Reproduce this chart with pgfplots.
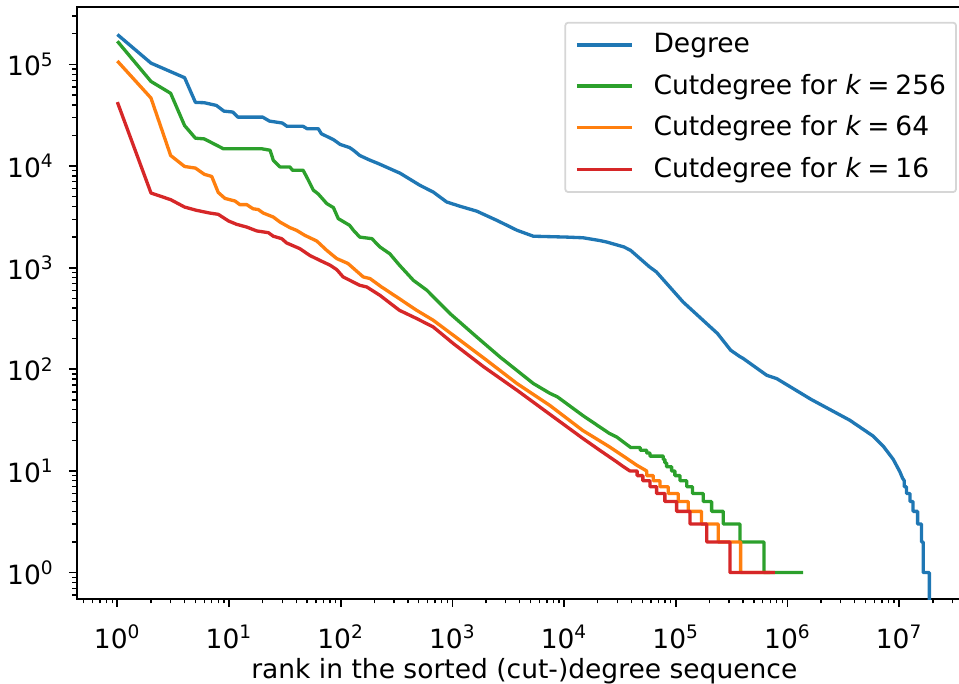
\documentclass[border=0pt]{standalone}
\usepackage{fontspec}
\setmainfont{DejaVu Sans}
\usepackage{pgfplots}
\pgfplotsset{compat=1.18}
\definecolor{c0}{HTML}{1F77B4}
\definecolor{c1}{HTML}{FF7F0E}
\definecolor{c2}{HTML}{2CA02C}
\definecolor{c3}{HTML}{D62728}
\newcommand{\tp}[1]{10\textsuperscript{#1}}
\newcommand{\keq}[1]{\textit{k}\hspace{0.22em}=\hspace{0.22em}#1}
\begin{document}
\begin{tikzpicture}[font=\fontsize{10.6}{12.7}\selectfont]
\begin{loglogaxis}[
  scale only axis, width=358.1pt, height=236.8pt,
  xmin=0.4325, xmax=4.477e7, ymin=0.5495, ymax=3.673e5,
  axis line style={line width=0.71pt},
  tick align=outside, tick pos=left,
  major tick length=3.1pt, minor tick length=1.78pt,
  major tick style={line width=0.71pt, black},
  minor tick style={line width=0.53pt, black},
  xtick={1,10,100,1000,10000,100000,1000000,10000000},
  xticklabels={\tp{0},\tp{1},\tp{2},\tp{3},\tp{4},\tp{5},\tp{6},\tp{7}},
  ytick={1,10,100,1000,10000,100000},
  yticklabels={\tp{0},\tp{1},\tp{2},\tp{3},\tp{4},\tp{5}},
  minor xtick={0.5,0.6,0.7,0.8,0.9,2,3,4,5,6,7,8,9,20,30,40,50,60,70,80,90,200,300,400,500,600,700,800,900,2000,3000,4000,5000,6000,7000,8000,9000,2e4,3e4,4e4,5e4,6e4,7e4,8e4,9e4,2e5,3e5,4e5,5e5,6e5,7e5,8e5,9e5,2e6,3e6,4e6,5e6,6e6,7e6,8e6,9e6,2e7,3e7,4e7},
  minor ytick={0.6,0.7,0.8,0.9,2,3,4,5,6,7,8,9,20,30,40,50,60,70,80,90,200,300,400,500,600,700,800,900,2000,3000,4000,5000,6000,7000,8000,9000,2e4,3e4,4e4,5e4,6e4,7e4,8e4,9e4,2e5,3e5},
  xticklabel style={anchor=base, yshift=-16.8pt},
  yticklabel style={anchor=east, inner sep=0pt, xshift=-5.8pt},
  xlabel={rank in the sorted (cut-)degree sequence},
  xlabel style={at={(axis description cs:0.5,0)}, anchor=base, yshift=-31.6pt},
  every axis plot/.append style={line width=1.33pt, line join=round},
  legend style={at={(1,1)}, anchor=north east, xshift=-6pt, yshift=-5.9pt,
    draw=black!16, line width=0.71pt, rounded corners=1.2pt, fill=white, fill opacity=0.8, text opacity=1,
    inner xsep=4pt, inner ysep=4.3pt, row sep=7.1pt, column sep=8pt,
    nodes={inner sep=0pt}},
  legend cell align=left,
  legend image code/.code={\draw[#1] (0pt,0pt) -- (22pt,0pt);},
]
\addplot[c0] coordinates {
(1,1.97e5)(2,1.03e5)(4,7.4e4)(5,4.23e4)(6,4.2e4)(7.7,3.95e4)(9,3.47e4)(10.8,3.4e4)(12,3.03e4)(20,3.03e4)(23,2.77e4)(30,2.65e4)(33,2.46e4)(46,2.46e4)(50,2.33e4)(63,2.33e4)(67,2.08e4)(86,1.82e4)(99,1.63e4)(120,1.52e4)(130,1.43e4)(148,1.27e4)(180,1.15e4)(216,1.06e4)(340,8.5e3)(512,6.46e3)(673,5.55e3)(888,4.43e3)(1170,4.02e3)(1650,3.6e3)(2500,2.92e3)(3800,2.33e3)(5300,2.04e3)(10500,2.0e3)(14800,1.97e3)(20800,1.85e3)(24000,1.79e3)(34300,1.6e3)(39400,1.48e3)(58000,1.02e3)(67000,908)(116000,460)(236000,225)(310000,154)(372000,134)(400000,128)(650000,87.5)(800000,81)(1.63e6,50.5)(3.6e6,31.6)(5.85e6,22)(7.2e6,17.5)(8.84e6,13)(1.014e7,9.8)(1.07e7,8.5)(1.11e7,8)(1.11e7,7)(1.16e7,7)(1.16e7,6)(1.25e7,6)(1.25e7,5)(1.33e7,5)(1.33e7,4)(1.46e7,4)(1.46e7,3)(1.585e7,3)(1.585e7,2)(1.64e7,2)(1.64e7,1)(1.86e7,1)(1.86e7,0.1)
};
\addlegendentry{Degree}
\addplot[c2] coordinates {
(1,1.69e5)(2,6.8e4)(3,5.2e4)(4,2.5e4)(5,1.88e4)(6,1.85e4)(8.9,1.48e4)(19.6,1.48e4)(23.3,1.43e4)(24.9,1.14e4)(28.6,9.8e3)(35,9.8e3)(37,9.1e3)(46,9.1e3)(49.6,7.8e3)(56.8,5.8e3)(63,5.3e3)(75,4.27e3)(86,3.9e3)(95,3.04e3)(120,2.61e3)(130,2.33e3)(148,2.0e3)(190,1.93e3)(224,1.6e3)(275,1.37e3)(335,1.06e3)(447,751)(590,600)(950,354)(1650,208)(2670,132)(5300,72.5)(7460,58)(8700,53.6)(14750,35)(25400,23.4)(29500,21.6)(39500,17)(48000,17)(48000,16)(54800,16)(54800,15)(58600,15)(58600,14)(77100,14)(77100,13)(79800,13)(79800,12)(82700,12)(82700,11)(91600,11)(91600,10)(98000,10)(98000,9)(109000,9)(109000,8)(125000,8)(125000,7)(141000,7)(141000,6)(176000,6)(176000,5)(209000,5)(209000,4)(266000,4)(266000,3)(375000,3)(375000,2)(615000,2)(615000,1)(1.38e6,1)
};
\addlegendentry{Cutdegree for \keq{256}}
\addplot[c1] coordinates {
(1,1.08e5)(2,4.67e4)(3,1.27e4)(4,9.9e3)(5,9.55e3)(6,8.3e3)(7,7.9e3)(8,5.5e3)(9.2,4.8e3)(11.3,4.53e3)(12.5,4.17e3)(14.4,4.17e3)(16.4,3.8e3)(18.3,3.73e3)(20.2,3.45e3)(24.9,3.15e3)(28.6,2.81e3)(35,2.48e3)(40.2,2.33e3)(47.7,2.08e3)(61,1.83e3)(75,1.48e3)(92,1.23e3)(116,1.1e3)(159,811)(183,781)(230,650)(317,515)(478,381)(673,304)(1170,193)(2020,123)(3780,72.5)(7470,44)(14700,25)(25400,17.3)(36300,13.3)(44600,11.4)(54800,10)(54800,9)(62800,9)(62800,8)(72100,8)(72100,7)(85500,7)(85500,6)(105000,6)(105000,5)(129000,5)(129000,4)(170000,4)(170000,3)(240000,3)(240000,2)(380000,2)(380000,1)(700000,1)
};
\addlegendentry{Cutdegree for \keq{64}}
\addplot[c3] coordinates {
(1,4.26e4)(2,5.43e3)(3,4.67e3)(4,3.95e3)(5.1,3.67e3)(6.7,3.45e3)(8,3.35e3)(9.9,2.88e3)(11.7,2.67e3)(14.4,2.51e3)(17.7,2.3e3)(22.5,2.21e3)(24.9,2.04e3)(29.6,1.93e3)(32.8,1.75e3)(43,1.54e3)(52.8,1.32e3)(65,1.18e3)(80,1.06e3)(92,958)(105,811)(148,671)(171,646)(224,535)(335,381)(478,316)(673,261)(1020,179)(1900,106)(3780,62.3)(7470,36)(14700,20.9)(20800,16)(29500,12.3)(34000,11)(38800,10)(45000,10)(45000,9)(50700,9)(50700,8)(58600,8)(58600,7)(67300,7)(67300,6)(79800,6)(79800,5)(101700,5)(101700,4)(134000,4)(134000,3)(189000,3)(189000,2)(305000,2)(305000,1)(771000,1)
};
\addlegendentry{Cutdegree for \keq{16}}
\end{loglogaxis}
\pgfresetboundingbox
\path[use as bounding box] (-30.68pt,-34pt) rectangle (352.92pt,239.6pt);
\end{tikzpicture}
\end{document}
